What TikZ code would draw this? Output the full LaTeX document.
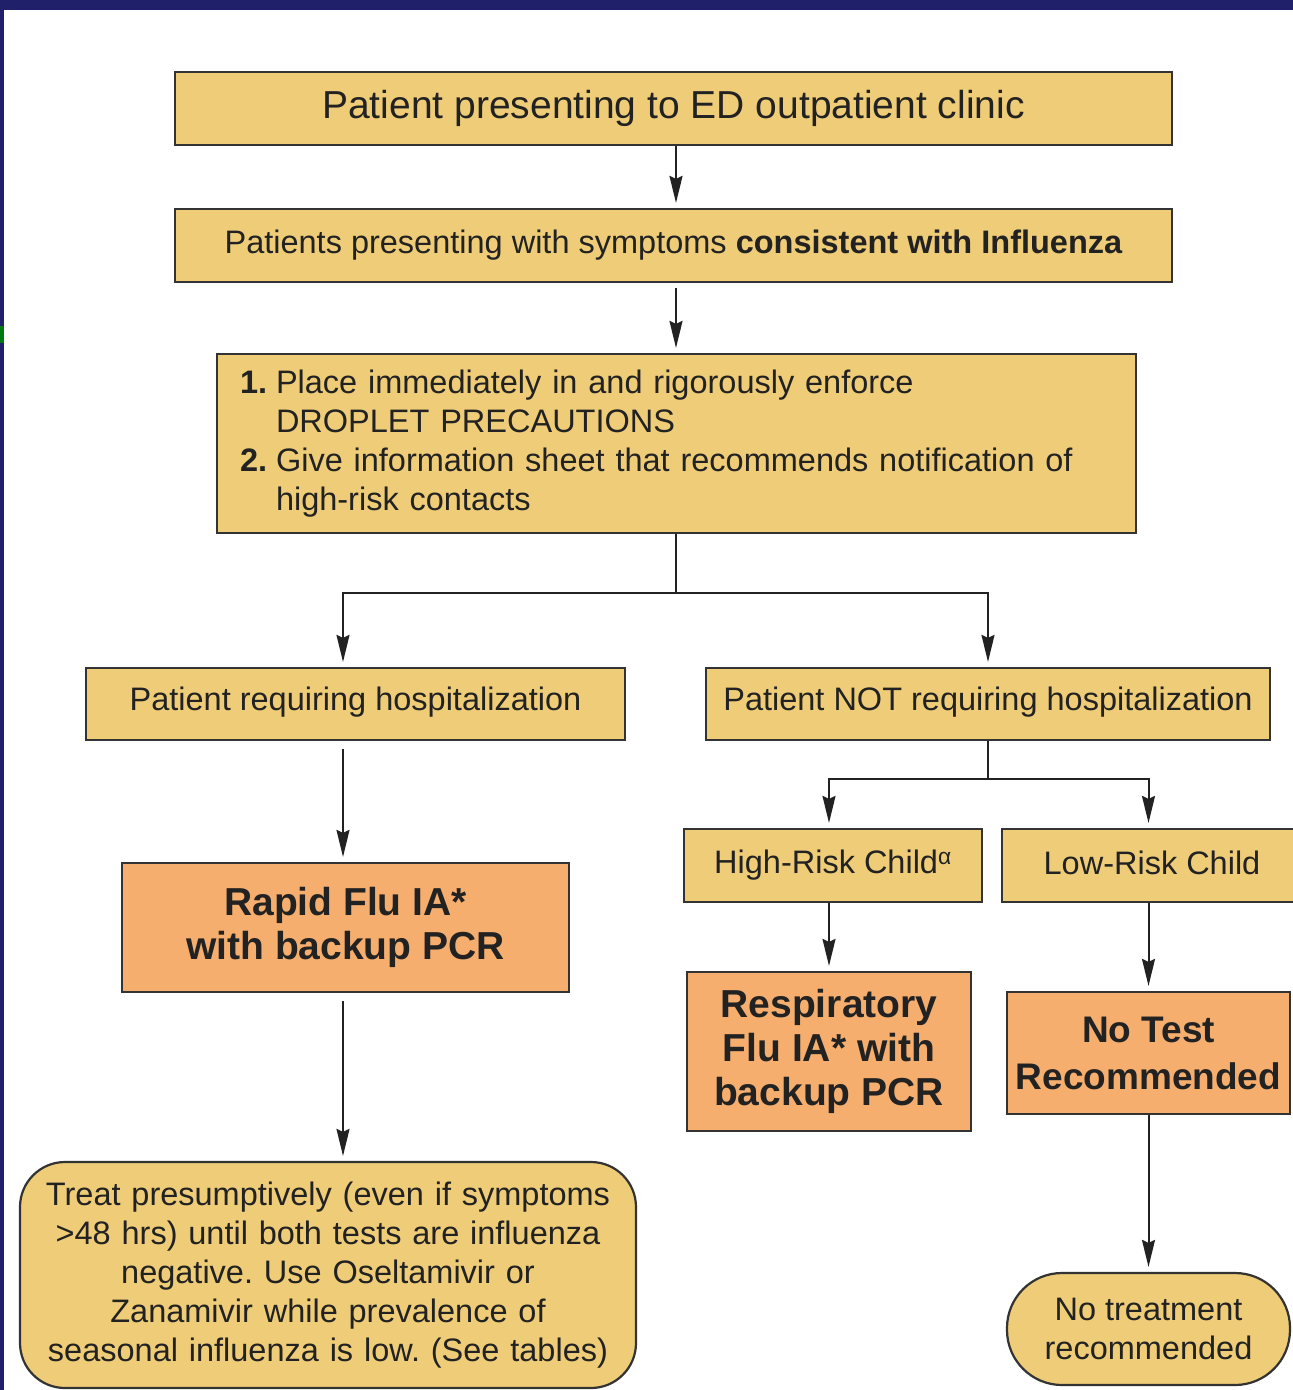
\documentclass[tikz,border=0pt]{standalone}
\usepackage{fontspec}
\setmainfont{Liberation Sans}
\usetikzlibrary{arrows.meta,calc}
\definecolor{navy}{HTML}{20206A}
\definecolor{boxy}{HTML}{EECC78}
\definecolor{boxo}{HTML}{F5AE6E}
\definecolor{edgec}{HTML}{333333}
\definecolor{txt}{HTML}{222222}
\definecolor{markg}{HTML}{007A10}
\frenchspacing
\begin{document}
\begin{tikzpicture}[x=1pt,y=-1pt,
  box/.style={draw=edgec, line width=2.2pt, fill=boxy, inner sep=0pt, align=center,
    text=txt, font=\fontsize{32.5}{39}\selectfont},
  obox/.style={box, fill=boxo, font=\bfseries\fontsize{39}{44}\selectfont},
  rbox/.style={box, rounded corners=#1},
  conn/.style={line width=2pt, draw=txt},
  arr/.style={conn, -{Stealth[length=27pt,width=13pt,inset=3pt]}, shorten >=5pt}
]
\useasboundingbox (0,0) rectangle (1293,1390);
\clip (0,0) rectangle (1293,1390);
\fill[navy] (0,0) rectangle (1293,1390);
\fill[white] (4,10) rectangle (1293,1390);
\fill[markg] (0,326) rectangle (4,343);

% column coordinates
\coordinate (mx) at (676,0);
\coordinate (lx) at (343,0);

% nodes
\node[box, minimum width=997pt, minimum height=73pt, font=\fontsize{39}{47}\selectfont]
  (b1) at (673.5,108.5) {Patient presenting to ED outpatient clinic};
\node[box, minimum width=997pt, minimum height=73pt]
  (b2) at (673.5,245.5) {Patients presenting with symptoms \textbf{consistent with Influenza}};
\node[box, minimum width=919pt, minimum height=179pt, text width=873pt, align=left]
  (b3) at (676.5,443.5)
  {\makebox[36pt][l]{\textbf{1.}}Place immediately in and rigorously enforce\\
   \hspace*{36pt}DROPLET PRECAUTIONS\\
   \makebox[36pt][l]{\textbf{2.}}Give information sheet that recommends notification of\\
   \hspace*{36pt}high-risk contacts};
\node[box, minimum width=539pt, minimum height=72pt] (hosp) at (355.5,704)
  {Patient requiring hospitalization\raisebox{0pt}[0pt][10pt]{}};
\node[box, minimum width=564pt, minimum height=72pt] (nothosp) at (988,704)
  {Patient NOT requiring hospitalization\raisebox{0pt}[0pt][10pt]{}};
\node[box, minimum width=298pt, minimum height=73pt] (high) at (833,865.5)
  {High-Risk Child\textsuperscript{α}};
\node[box, minimum width=300pt, minimum height=73pt] (low) at (1152,865.5)
  {Low-Risk Child\raisebox{0pt}[0pt][6pt]{}};
\node[obox, minimum width=447pt, minimum height=129pt] (rapid) at (345.5,927.5)
  {Rapid Flu IA*\\with backup PCR};
\node[obox, minimum width=284pt, minimum height=159pt] (resp) at (829,1051.5)
  {Respiratory\\Flu IA* with\\backup PCR};
\node[obox, minimum width=283pt, minimum height=122pt, font=\bfseries\fontsize{37}{47}\selectfont]
  (notest) at (1148.5,1053) {No Test\\Recommended};
\node[rbox=45pt, minimum width=616pt, minimum height=226pt, text width=600pt]
  (treat) at (328,1275)
  {Treat presumptively (even if symptoms\\>48 hrs) until both tests are influenza\\negative. Use Oseltamivir or\\Zanamivir while prevalence of\\seasonal influenza is low. (See tables)};
\node[rbox=55pt, minimum width=283pt, minimum height=112pt] (notreat) at (1148.5,1329)
  {No treatment\\recommended};

% connectors
\draw[arr] (b1.south -| mx) -- (b2.north -| mx);
\draw[arr, shorten <=5pt] (b2.south -| mx) -- (b3.north -| mx);
\draw[conn] (b3.south -| mx) -- ++(0,59) coordinate (j1);
\draw[arr] (j1) -| (hosp.north -| lx);
\draw[arr] (j1) -| (nothosp.north);
\draw[arr, shorten <=8pt] (hosp.south -| lx) -- (rapid.north -| lx);
\draw[arr, shorten <=8pt] (rapid.south -| lx) -- (treat.north -| lx);
\draw[conn] (nothosp.south) -- ++(0,38) coordinate (j2);
\draw[arr] (j2) -| (high.north -| resp.north);
\draw[arr] (j2) -| (low.north -| notest.north);
\draw[arr] (high.south -| resp.north) -- (resp.north);
\draw[arr] (low.south -| notest.north) -- (notest.north);
\draw[arr] (notest.south) -- (notreat.north);
\end{tikzpicture}
\end{document}
